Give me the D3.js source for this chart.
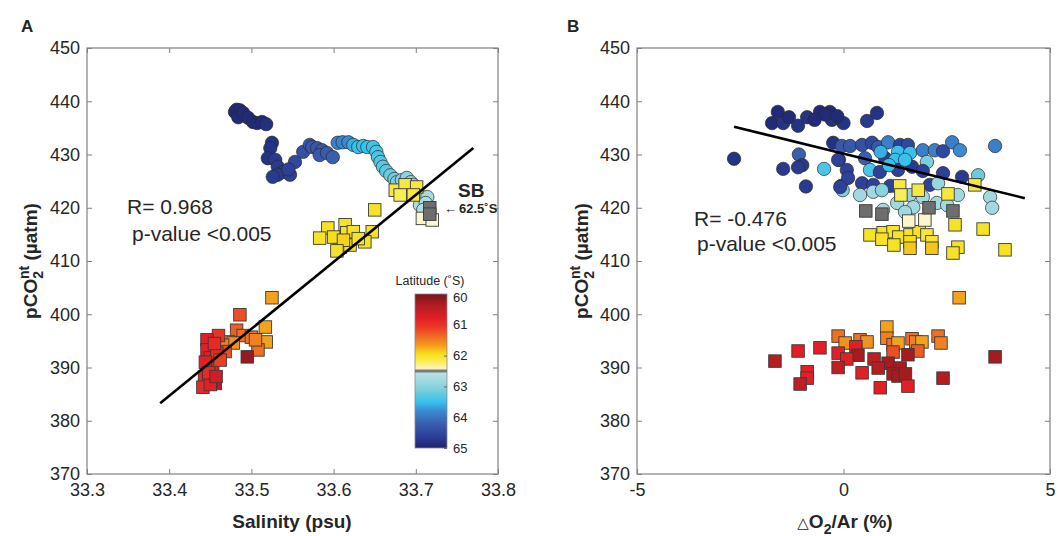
<!DOCTYPE html>
<html><head><meta charset="utf-8">
<script src="https://cdn.jsdelivr.net/npm/d3@7"></script>
<style>
body{margin:0;background:#fff}
svg{display:block}
text{font-family:"Liberation Sans",Arial,Helvetica,sans-serif;fill:#262626}
</style>
</head><body>
<svg id="chart" width="1058" height="536"></svg>
<script>
// ---------- DATA ----------
const yTicks = [370, 380, 390, 400, 410, 420, 430, 440, 450];
const xTicksA = [33.3, 33.4, 33.5, 33.6, 33.7, 33.8];
const xTicksB = [-5, 0, 5];
const cbTicks = [60, 61, 62, 63, 64, 65];

// Panel A: [salinity, pCO2nt, latitude]  circles = south of SB
const panelACircles = [
  [33.480,438.0,64.9],[33.482,438.4,64.9],[33.486,438.3,64.9],[33.484,437.0,64.9],[33.490,437.8,64.9],
  [33.496,436.9,64.9],[33.502,436.1,64.9],[33.507,435.9,64.9],[33.513,436.1,64.9],[33.518,435.7,64.85],
  [33.525,432.2,64.8],[33.523,431.2,64.8],[33.520,429.3,64.8],[33.529,429.0,64.7],[33.532,427.7,64.7],
  [33.538,426.7,64.7],[33.532,426.2,64.7],[33.526,425.8,64.7],[33.547,426.2,64.6],[33.553,428.6,64.5],
  [33.545,427.2,64.6],[33.563,430.5,64.4],[33.571,431.8,64.35],[33.574,431.4,64.3],[33.580,431.2,64.3],
  [33.586,430.8,64.3],[33.583,429.9,64.3],[33.592,430.3,64.25],[33.599,429.5,64.2],
  [33.605,432.2,63.9],[33.611,432.3,63.85],[33.618,432.3,63.8],[33.624,431.8,63.6],[33.630,431.4,63.5],
  [33.636,431.6,63.5],[33.641,431.4,63.5],[33.648,431.4,63.45],[33.652,430.5,63.4],[33.654,429.5,63.4],
  [33.657,428.6,63.35],[33.660,427.7,63.3],[33.664,426.9,63.3],[33.669,426.1,63.2],[33.674,425.4,63.15],
  [33.677,424.8,63.1],[33.683,425.2,63.05],[33.689,425.6,63.0],[33.694,424.8,62.95],[33.697,424.3,62.9],
  [33.701,422.8,62.8],[33.708,422.0,62.75],[33.714,422.0,62.75],[33.705,420.5,62.7],[33.712,420.9,62.7],
  [33.709,419.6,62.65]
];
// Panel A squares = north of SB (62.5 = SB, grey)
const panelASquares = [
  [33.525,403.1,61.7],[33.486,399.9,61.2],[33.517,397.6,61.7],[33.518,394.8,61.7],[33.508,393.3,61.4],
  [33.482,397.0,61.3],[33.490,396.0,61.4],[33.472,394.8,61.5],[33.478,394.6,61.6],[33.465,394.2,61.5],
  [33.500,395.7,61.4],[33.505,395.2,61.5],[33.468,393.0,61.2],[33.460,396.0,61.0],[33.446,395.2,60.8],
  [33.446,393.3,60.8],[33.450,391.8,60.8],[33.447,390.5,60.9],[33.453,389.9,60.8],[33.443,388.2,60.9],
  [33.441,386.3,60.9],[33.456,387.0,60.4],[33.458,392.7,60.9],[33.462,391.4,61.1],[33.455,394.5,60.9],
  [33.450,386.8,60.8],[33.444,391.0,60.8],[33.448,389.0,60.9],[33.457,388.3,60.6],[33.495,392.0,60.2],
  [33.650,419.6,62.0],[33.593,416.2,62.0],[33.583,414.3,62.0],[33.614,416.8,62.0],[33.616,415.3,62.0],
  [33.624,415.5,62.0],[33.647,415.5,62.0],[33.638,413.6,62.0],[33.608,412.6,62.0],[33.620,413.0,62.0],
  [33.600,414.5,61.95],[33.612,413.9,61.9],[33.630,414.2,62.0],[33.604,411.9,62.0],
  [33.675,423.3,62.1],[33.687,424.3,62.1],[33.701,423.9,62.1],[33.681,422.4,62.2],[33.697,422.4,62.1],
  [33.708,418.0,62.45],[33.720,417.7,62.45],[33.717,420.0,62.5],[33.717,418.8,62.5]
];

// Panel B: [dO2/Ar (%), pCO2nt, latitude]
const panelBCircles = [
  [-2.65,429.2,64.8],[-1.73,435.9,64.9],[-1.59,438.0,64.9],[-1.46,435.9,64.8],[-1.32,437.0,64.9],
  [-1.10,435.4,64.8],[-0.88,437.0,64.8],[-0.57,438.0,64.9],[-0.33,438.0,64.9],[-0.28,436.5,64.8],
  [0.00,435.9,64.8],[0.57,436.3,64.7],[0.81,437.8,64.8],[-0.45,437.5,64.9],[-0.70,436.5,64.9],
  [-0.15,437.2,64.9],[-1.46,427.3,64.7],[-1.08,430.0,64.2],[-1.00,428.0,64.7],[-1.10,427.6,64.7],
  [-0.91,424.0,64.7],[-0.47,427.3,63.4],[-0.25,432.2,64.8],[-0.11,429.0,64.6],[-0.06,424.1,64.6],
  [-0.02,423.3,63.1],[-0.04,431.6,64.3],[0.16,431.6,64.3],[0.45,431.8,64.4],[0.69,432.2,64.5],
  [0.84,431.4,64.3],[1.08,432.3,63.9],[1.37,431.8,64.6],[1.56,431.8,64.5],[1.32,430.5,63.5],
  [1.61,430.3,63.5],[1.92,430.8,63.9],[2.21,430.8,63.9],[2.41,430.6,64.5],[2.63,432.3,63.9],
  [2.82,430.8,63.8],[3.67,431.6,63.9],[-0.13,429.0,64.6],[0.52,429.3,64.2],[1.01,429.3,64.6],
  [1.25,429.0,63.5],[2.02,428.6,63.1],[0.08,427.1,64.6],[0.64,427.1,63.4],[0.88,426.7,64.6],
  [1.32,427.1,64.6],[1.66,427.7,64.7],[1.92,426.9,64.6],[2.41,426.5,64.6],[2.87,425.8,64.7],
  [3.26,426.1,63.2],[0.11,425.6,64.6],[0.45,424.6,64.6],[0.72,424.3,64.6],[1.13,424.1,64.6],
  [-0.08,423.9,64.6],[2.09,424.3,64.6],[2.29,424.6,62.9],[0.40,422.4,62.8],[0.72,423.0,62.8],
  [0.93,423.3,63.0],[1.30,420.9,62.8],[1.61,422.4,62.9],[1.69,420.1,62.8],[1.92,422.0,62.8],
  [2.26,420.9,62.8],[2.51,420.5,62.8],[2.77,422.4,62.8],[3.55,422.0,62.8],[3.60,420.0,62.8],
  [0.96,419.6,62.8],[1.49,419.2,62.8],[1.49,429.0,63.5],[1.10,428.0,63.5],[0.90,430.5,63.6]
];
const panelBSquares = [
  [2.80,403.1,61.7],[-0.13,395.9,61.4],[0.04,394.6,61.6],[0.40,395.2,61.4],[0.57,394.8,61.6],
  [1.05,397.6,61.7],[1.05,395.5,61.5],[1.20,394.3,61.4],[1.32,394.6,61.7],[1.66,395.4,61.4],
  [1.75,394.8,61.5],[1.90,394.8,61.7],[2.29,395.9,61.4],[2.36,394.6,61.5],[1.80,393.1,61.3],
  [1.20,392.9,61.2],[-0.13,392.7,60.8],[0.30,393.9,60.8],[0.35,392.3,60.3],[-0.57,393.7,60.8],
  [-1.10,393.1,60.8],[-1.66,391.2,60.4],[0.08,391.6,60.8],[0.74,391.6,60.5],[1.08,390.8,60.3],
  [1.56,392.4,60.3],[0.84,389.9,60.4],[-0.13,390.0,60.5],[1.37,389.9,60.3],[1.20,388.8,60.3],
  [1.32,388.4,60.3],[1.50,388.8,60.3],[0.45,389.0,60.8],[-0.88,389.2,60.8],[-0.88,388.0,60.8],
  [-1.05,386.9,60.5],[0.89,386.2,60.8],[1.56,386.5,60.8],[2.41,388.0,60.4],[3.67,392.0,60.3],
  [1.36,424.1,62.1],[1.39,422.4,62.2],[1.81,423.3,62.1],[2.53,422.6,62.1],[3.18,424.3,62.1],
  [2.70,416.8,62.0],[3.38,416.0,62.0],[0.64,414.9,62.0],[0.96,415.3,62.0],[1.20,415.5,62.0],
  [0.93,414.1,62.0],[1.34,414.5,62.0],[1.61,414.9,62.0],[1.83,415.5,62.0],[2.02,414.9,62.05],
  [1.61,413.6,61.95],[2.14,413.6,62.05],[2.14,412.4,61.85],[1.61,412.4,61.85],[1.22,413.0,62.0],
  [2.77,412.6,62.0],[2.65,411.5,62.0],[3.91,412.1,62.0],
  [1.58,417.5,62.45],[1.97,417.7,62.45],
  [0.54,419.4,62.5],[0.93,418.8,62.5],[2.07,420.0,62.5],[2.65,419.4,62.5]
];
const fitA = [[33.389,383.3],[33.770,431.2]];
const fitB = [[-2.65,435.2],[4.39,421.8]];

// colour map (latitude, °S)
const latStops = [60, 60.4, 60.8, 61.1, 61.4, 61.7, 61.95, 62.2, 62.46, 62.54, 62.9, 63.2, 63.5, 63.8, 64.2, 64.6, 65];
const latColors = ['#7a1518','#b51d23','#e31f26','#ec3d25','#ef6f23','#f4a21c','#f6df1a','#f8ed5a','#fcf5d2',
                   '#bde2e6','#97d6df','#6ccbdc','#37c2ee','#3b8ad0','#3a5fb0','#2d4199','#1d2470'];

// ---------- DRAW ----------
const svg = d3.select('#chart');
const colorScale = d3.scaleLinear().domain(latStops).range(latColors).interpolate(d3.interpolateRgb).clamp(true);
const col = lat => (lat === 62.5 ? '#6e6e6e' : colorScale(lat));

const y = d3.scaleLinear().domain([370, 450]).range([474, 48]);
const xA = d3.scaleLinear().domain([33.3, 33.8]).range([87, 498]);
const xB = d3.scaleLinear().domain([-5, 5]).range([637, 1050]);
const axisColor = '#808080';

function frame(x, xt, fmt) {
  const [x0, x1] = x.range(), [y1, y0] = y.range();
  const g = svg.append('g');
  const style = sel => {
    sel.select('.domain').remove();
    sel.selectAll('.tick line').attr('stroke', axisColor);
    sel.selectAll('text').attr('font-size', 18).attr('fill', '#262626')
      .attr('font-family', '"Liberation Sans",Arial,Helvetica,sans-serif');
  };
  g.append('g').attr('transform', `translate(0,${y1})`)
    .call(d3.axisBottom(x).tickValues(xt).tickSize(-5).tickPadding(9).tickFormat(fmt)).call(style);
  g.append('g').attr('transform', `translate(0,${y0})`)
    .call(d3.axisTop(x).tickValues(xt).tickSize(-5).tickFormat('')).call(style);
  g.append('g').attr('transform', `translate(${x0},0)`)
    .call(d3.axisLeft(y).tickValues(yTicks).tickSize(-5).tickPadding(7)).call(style);
  g.append('g').attr('transform', `translate(${x1},0)`)
    .call(d3.axisRight(y).tickValues(yTicks).tickSize(-5).tickFormat('')).call(style);
  g.append('rect').attr('x', x0).attr('y', y0).attr('width', x1 - x0).attr('height', y1 - y0)
    .attr('fill', 'none').attr('stroke', axisColor).attr('stroke-width', 1.2);
}

function markers(x, circles, squares, fit) {
  const g = svg.append('g');
  g.selectAll('circle').data(circles).join('circle')
    .attr('cx', d => x(d[0])).attr('cy', d => y(d[1])).attr('r', 6.7)
    .attr('fill', d => col(d[2])).attr('stroke', '#2a2a2a').attr('stroke-width', 0.7);
  const s = 12.5;
  g.selectAll('rect.sq').data(squares).join('rect').attr('class', 'sq')
    .attr('x', d => x(d[0]) - s / 2).attr('y', d => y(d[1]) - s / 2).attr('width', s).attr('height', s)
    .attr('fill', d => col(d[2])).attr('stroke', '#3a3a3a').attr('stroke-width', 0.9);
  g.append('path').attr('d', d3.line().x(d => x(d[0])).y(d => y(d[1]))(fit))
    .attr('stroke', '#000').attr('stroke-width', 2.6).attr('fill', 'none');
}

frame(xA, xTicksA, d3.format('.1f'));
frame(xB, xTicksB, d => String(d));
markers(xA, panelACircles, panelASquares, fitA);
markers(xB, panelBCircles, panelBSquares, fitB);

// panel letters
svg.append('text').attr('x', 21).attr('y', 32).attr('font-size', 17).attr('font-weight', 'bold').attr('fill', '#000').text('A');
svg.append('text').attr('x', 567).attr('y', 32).attr('font-size', 17).attr('font-weight', 'bold').attr('fill', '#000').text('B');

// y labels
function yLabel(cx) {
  const t = svg.append('text').attr('transform', `translate(${cx},261) rotate(-90)`)
    .attr('text-anchor', 'middle').attr('font-size', 19).attr('font-weight', 'bold').attr('fill', '#1a1a1a');
  t.append('tspan').text('pCO');
  t.append('tspan').attr('font-size', 14).attr('dy', 6).text('2');
  t.append('tspan').attr('font-size', 14).attr('dx', -8).attr('dy', -14).text('nt');
  t.append('tspan').attr('dy', 8).text(' (µatm)');
}
yLabel(37);
yLabel(588);

// x labels
svg.append('text').attr('x', 292).attr('y', 528).attr('text-anchor', 'middle').attr('font-size', 19)
  .attr('font-weight', 'bold').attr('fill', '#1a1a1a').text('Salinity (psu)');
const xl = svg.append('text').attr('x', 845).attr('y', 528).attr('text-anchor', 'middle').attr('font-size', 19)
  .attr('font-weight', 'bold').attr('fill', '#1a1a1a');
xl.append('tspan').attr('font-weight', 'normal').attr('font-family', '"DejaVu Sans",sans-serif').attr('font-size', 15).text('△');
xl.append('tspan').text('O');
xl.append('tspan').attr('font-size', 14).attr('dy', 6).text('2');
xl.append('tspan').attr('dy', -6).text('/Ar (%)');

// statistics text
svg.append('text').attr('x', 127).attr('y', 214).attr('font-size', 21).attr('fill', '#111').text('R= 0.968');
svg.append('text').attr('x', 132).attr('y', 241).attr('font-size', 21).attr('fill', '#111').text('p-value <0.005');
svg.append('text').attr('x', 694).attr('y', 226).attr('font-size', 21).attr('fill', '#111').text('R= -0.476');
svg.append('text').attr('x', 697).attr('y', 251).attr('font-size', 21).attr('fill', '#111').text('p-value <0.005');

// SB annotation
svg.append('text').attr('x', 458).attr('y', 197).attr('font-size', 19).attr('font-weight', 'bold').attr('fill', '#111').text('SB');
svg.append('text').attr('x', 444).attr('y', 213).attr('font-size', 13).attr('fill', '#111').text('←');
svg.append('text').attr('x', 459).attr('y', 213).attr('font-size', 13).attr('font-weight', 'bold').attr('fill', '#111').text('62.5˚S');

// colourbar
const cb = d3.scaleLinear().domain([60, 65]).range([294, 448]);
const defs = svg.append('defs');
const grad = defs.append('linearGradient').attr('id', 'cbg').attr('x1', 0).attr('y1', 0).attr('x2', 0).attr('y2', 1);
d3.range(0, 101).forEach(i => {
  const lat = 60 + i * 0.05;
  grad.append('stop').attr('offset', i / 100).attr('stop-color', colorScale(lat));
});
svg.append('rect').attr('x', 415).attr('y', cb(60)).attr('width', 32).attr('height', cb(65) - cb(60))
  .attr('fill', 'url(#cbg)').attr('stroke', '#8a8a8a').attr('stroke-width', 0.8);
svg.append('rect').attr('x', 415).attr('y', cb(62.5) - 1.5).attr('width', 32).attr('height', 3).attr('fill', '#7a7a7a');
const cbAxis = svg.append('g').attr('transform', 'translate(447,0)')
  .call(d3.axisRight(cb).tickValues(cbTicks).tickSize(-3).tickPadding(6).tickFormat(d3.format('d')));
cbAxis.select('.domain').remove();
cbAxis.selectAll('.tick line').attr('stroke', '#666');
cbAxis.selectAll('text').attr('font-size', 13).attr('fill', '#262626')
  .attr('font-family', '"Liberation Sans",Arial,Helvetica,sans-serif');
cbAxis.selectAll('.tick').filter(d => d === 60).select('text').attr('dy', '0.55em');
svg.append('text').attr('x', 430).attr('y', 285).attr('text-anchor', 'middle').attr('font-size', 12.5).attr('fill', '#262626').text('Latitude (˚S)');
</script>
</body></html>
